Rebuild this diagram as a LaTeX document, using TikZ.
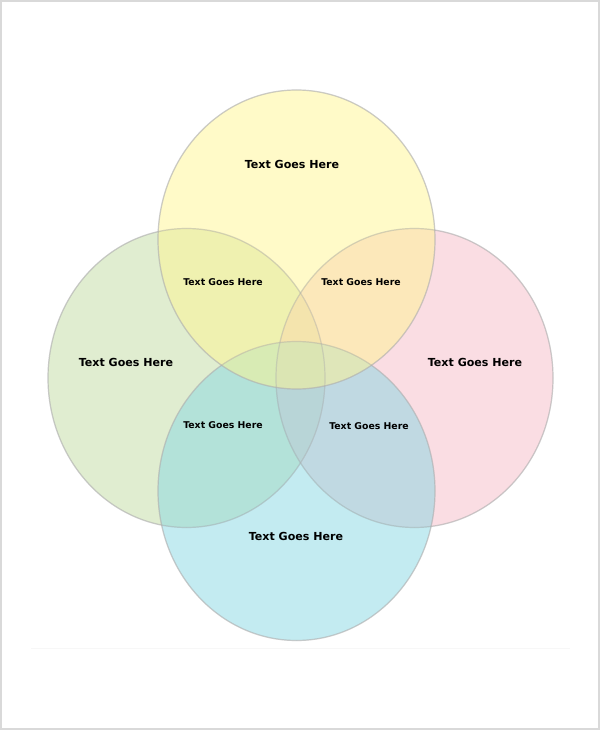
\documentclass[tikz,border=0pt]{standalone}
\usepackage{fontspec}
\setmainfont{DejaVu Sans}
\usepackage{tikz}
\usetikzlibrary{positioning,calc}
\definecolor{cyellow}{RGB}{255,245,145}
\definecolor{cgreen}{RGB}{193,219,161}
\definecolor{cpink}{RGB}{245,187,199}
\definecolor{ccyan}{RGB}{135,215,227}
\definecolor{cedge}{RGB}{175,175,175}
\definecolor{cframe}{RGB}{217,217,217}
\tikzset{
set/.style = {draw=cedge, draw opacity=0.4, line width=0.9pt, fill opacity=0.5},
biglabel/.style = {font=\fontsize{8.3}{9}\selectfont\bfseries, text=black},
smalllabel/.style = {font=\fontsize{7}{8}\selectfont\bfseries, text=black}
}

\begin{document}
\begin{tikzpicture}[x=0.75pt,y=-0.75pt]
  \useasboundingbox (0,0) rectangle (600,730);
  \draw [cframe, line width=1.5pt] (1,1) rectangle (599,729);
  \draw [black!3, line width=0.6pt] (31,648) -- (570,648);

  % the four sets
  \fill [set, fill=cgreen]  (186.5,378)   ellipse (138.5 and 149.5);
  \fill [set, fill=cpink]   (414.5,378)   ellipse (138.5 and 149.5);
  \fill [set, fill=ccyan]   (296.5,491)   ellipse (138.5 and 149.5);
  \fill [set, fill=cyellow] (296.5,239.5) ellipse (138.5 and 149.5);
  \draw [set] (296.5,239.5) ellipse (138.5 and 149.5);
  \draw [set] (186.5,378)   ellipse (138.5 and 149.5);
  \draw [set] (414.5,378)   ellipse (138.5 and 149.5);
  \draw [set] (296.5,491)   ellipse (138.5 and 149.5);

  \node [biglabel]   (top)      at (292,164) {Text Goes Here};
  \node [biglabel]   (left)     at (126,362) {Text Goes Here};
  \node [biglabel]   (right)    at (475,362) {Text Goes Here};
  \node [biglabel]   (bottom)   at (296,536) {Text Goes Here};
  \node [smalllabel] (topleft)  at (223,282) {Text Goes Here};
  \node [smalllabel] (topright) at (361,282) {Text Goes Here};
  \node [smalllabel] (botleft)  at (223,425) {Text Goes Here};
  \node [smalllabel] (botright) at (369,426) {Text Goes Here};
\end{tikzpicture}
\end{document}
